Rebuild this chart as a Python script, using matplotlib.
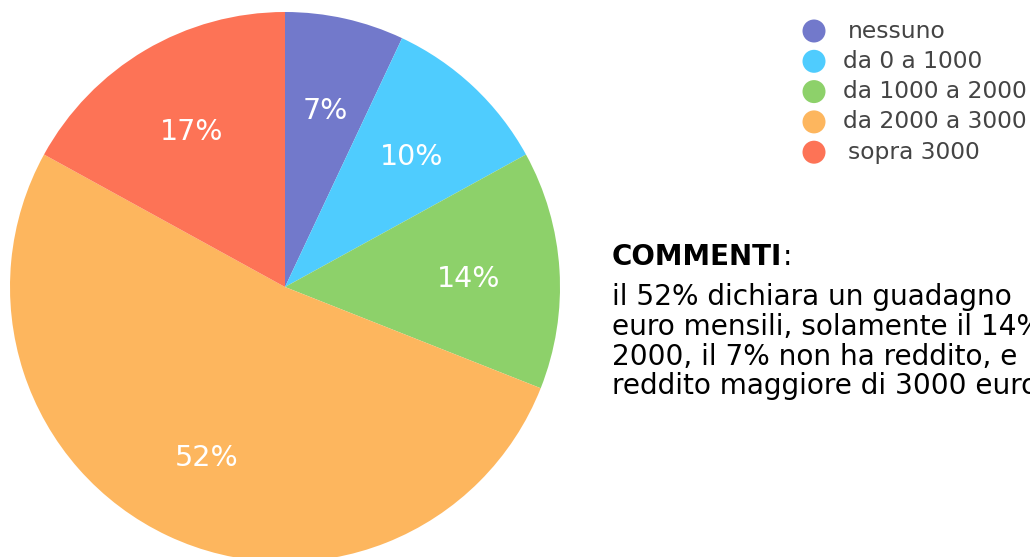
import matplotlib
matplotlib.use("Agg")
import matplotlib.pyplot as plt
import matplotlib.patches as mpatches
from matplotlib.transforms import offset_copy

categories = ["nessuno", "da 0 a 1000", "da 1000 a 2000", "da 2000 a 3000", "sopra 3000"]
values = [7, 10, 14, 52, 17]
colors = ["#7279CB", "#4FCCFE", "#8DD16A", "#FDB65E", "#FD7356"]
comment_title = "COMMENTI"
comment_lines = [
    "il 52% dichiara un guadagno",
    "euro mensili, solamente il 14%",
    "2000, il 7% non ha reddito, e",
    "reddito maggiore di 3000 euro",
]

plt.rcParams['font.family'] = ['DejaVu Sans']

W, H = 1030, 557
fig = plt.figure(figsize=(W / 100, H / 100), dpi=100)
fig.patch.set_facecolor("white")

cx, cy, r = 285, 287, 275
ax = fig.add_axes([(cx - r) / W, (H - cy - r) / H, 2 * r / W, 2 * r / H])

wedges, texts, autotexts = ax.pie(
    values, colors=colors, startangle=90, counterclock=False, radius=1,
    autopct=lambda p: f"{p:.0f}%", pctdistance=0.67,
    wedgeprops=dict(linewidth=0), textprops=dict(color="white", fontsize=20.5),
)
ax.set_xlim(-1, 1)
ax.set_ylim(-1, 1)
ax.set_aspect("equal")
ax.axis("off")
for w in wedges:
    w.set_clip_on(False)
for at in autotexts:
    at.set_transform(offset_copy(ax.transData, fig=fig, x=0, y=-4, units='dots'))

# legend
leg_y0 = 31
for i, (cat, col) in enumerate(zip(categories, colors)):
    y = leg_y0 + i * 30.3
    fig.patches.append(mpatches.Ellipse(
        (814 / W, 1 - y / H), 23 / W, 23 / H, transform=fig.transFigure,
        facecolor=col, edgecolor="none"))
    xoff = 848 if cat in ("nessuno", "sopra 3000") else 843
    fig.text(xoff / W, 1 - y / H, cat, fontsize=16.8, color="#444444",
             va="center", ha="left")

# comments
t = fig.text(612 / W, 1 - 257 / H, comment_title, fontsize=20, fontweight="bold",
             color="black", va="center", ha="left")
renderer = fig.canvas.get_renderer()
bb = t.get_window_extent(renderer)
fig.text(bb.x1 / W, 1 - 257 / H, ":", fontsize=20, color="black",
         va="center", ha="left")
for i, line in enumerate(comment_lines):
    fig.text(612 / W, 1 - (296.5 + 30 * i) / H, line, fontsize=20.2, color="black",
             va="center", ha="left")

fig.savefig("out.png", dpi=100)
